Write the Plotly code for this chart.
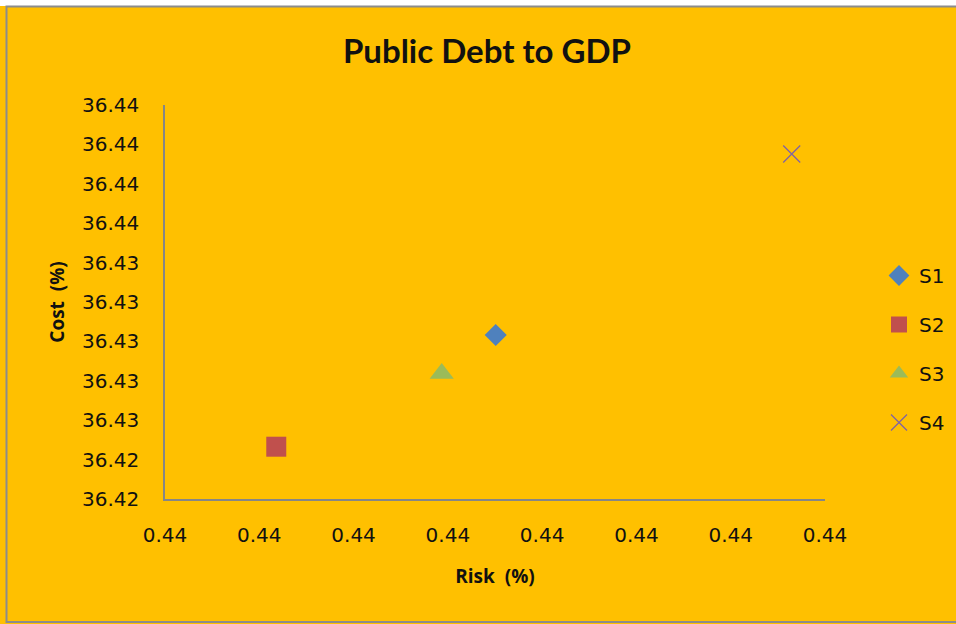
import plotly.graph_objects as go

# Scenario results: risk vs. cost of public debt to GDP
series_names = ["S1", "S2", "S3", "S4"]
risk_pct = [0.4407015, 0.440236, 0.440587, 0.4413294]
cost_pct = [36.430325, 36.424655, 36.428376, 36.439513]

marker_symbols = ["diamond", "square", "triangle-up", "x-thin-open"]
marker_colors = ["#4F81BD", "#C0504D", "#9BBB59", "#8064A2"]
marker_sizes = [17, 20, 21, 17]

W, H = 956, 624
L, R, T, B = 165, 131, 105, 125
PW, PH = W - L - R, H - T - B


def px(x):
    return (x - L) / PW


def py(y):
    return (H - B - y) / PH


fig = go.Figure()
for i, name in enumerate(series_names):
    fig.add_trace(go.Scatter(
        x=[risk_pct[i]], y=[cost_pct[i]], mode="markers", name=name,
        legendgroup=name,
        marker=dict(symbol=marker_symbols[i], color=marker_colors[i],
                    size=marker_sizes[i],
                    line=dict(color=marker_colors[i], width=1.3 if i == 3 else 0)),
    ))

tick_font = dict(family="DejaVu Sans", size=20, color="#111111")

fig.update_layout(
    width=W, height=H,
    margin=dict(l=L, r=R, t=T, b=B, autoexpand=False),
    paper_bgcolor="#FFC000", plot_bgcolor="#FFC000",
    title=dict(text="<b>Public Debt to GDP</b>", x=487 / W, xanchor="center",
               y=1 - 51 / H, yanchor="middle",
               font=dict(family="Lato", size=33, color="#111111")),
    xaxis=dict(range=[0.4400, 0.4414], tickmode="linear", tick0=0.4400, dtick=0.0002,
               tickformat=".2f", showgrid=False, zeroline=False,
               showline=True, linecolor="#868686", linewidth=1.5,
               ticks="outside", ticklen=17, tickcolor="rgba(0,0,0,0)",
               tickfont=tick_font,
               title=dict(text="<b>Risk  (%)</b>", standoff=24,
                          font=dict(family="Open Sans", size=19, color="#111111"))),
    yaxis=dict(range=[36.422, 36.442], tickmode="linear", tick0=36.422, dtick=0.002,
               tickformat=".2f", showgrid=False, zeroline=False,
               showline=True, linecolor="#868686", linewidth=1.5,
               ticks="outside", ticklen=20, tickcolor="rgba(0,0,0,0)",
               tickfont=tick_font,
               title=dict(text="<b>Cost  (%)</b>", standoff=12,
                          font=dict(family="Open Sans", size=19, color="#111111"))),
    legend=dict(x=px(879), xanchor="left", y=py(349), yanchor="middle",
                bgcolor="rgba(0,0,0,0)", tracegroupgap=20,
                font=dict(family="DejaVu Sans", size=20, color="#111111")),
    showlegend=True,
)

# White strip above the chart area and the grey outer frame
fig.add_shape(type="rect", xref="paper", yref="paper",
              x0=px(-5), x1=px(W + 5), y0=py(6), y1=py(-5),
              fillcolor="white", line=dict(width=0), layer="above")
fig.add_shape(type="rect", xref="paper", yref="paper",
              x0=px(6.5), x1=px(W + 10), y0=py(622), y1=py(6.5),
              fillcolor="rgba(0,0,0,0)", line=dict(color="#8C8C8C", width=2),
              layer="above")

fig.write_html("out.html")
